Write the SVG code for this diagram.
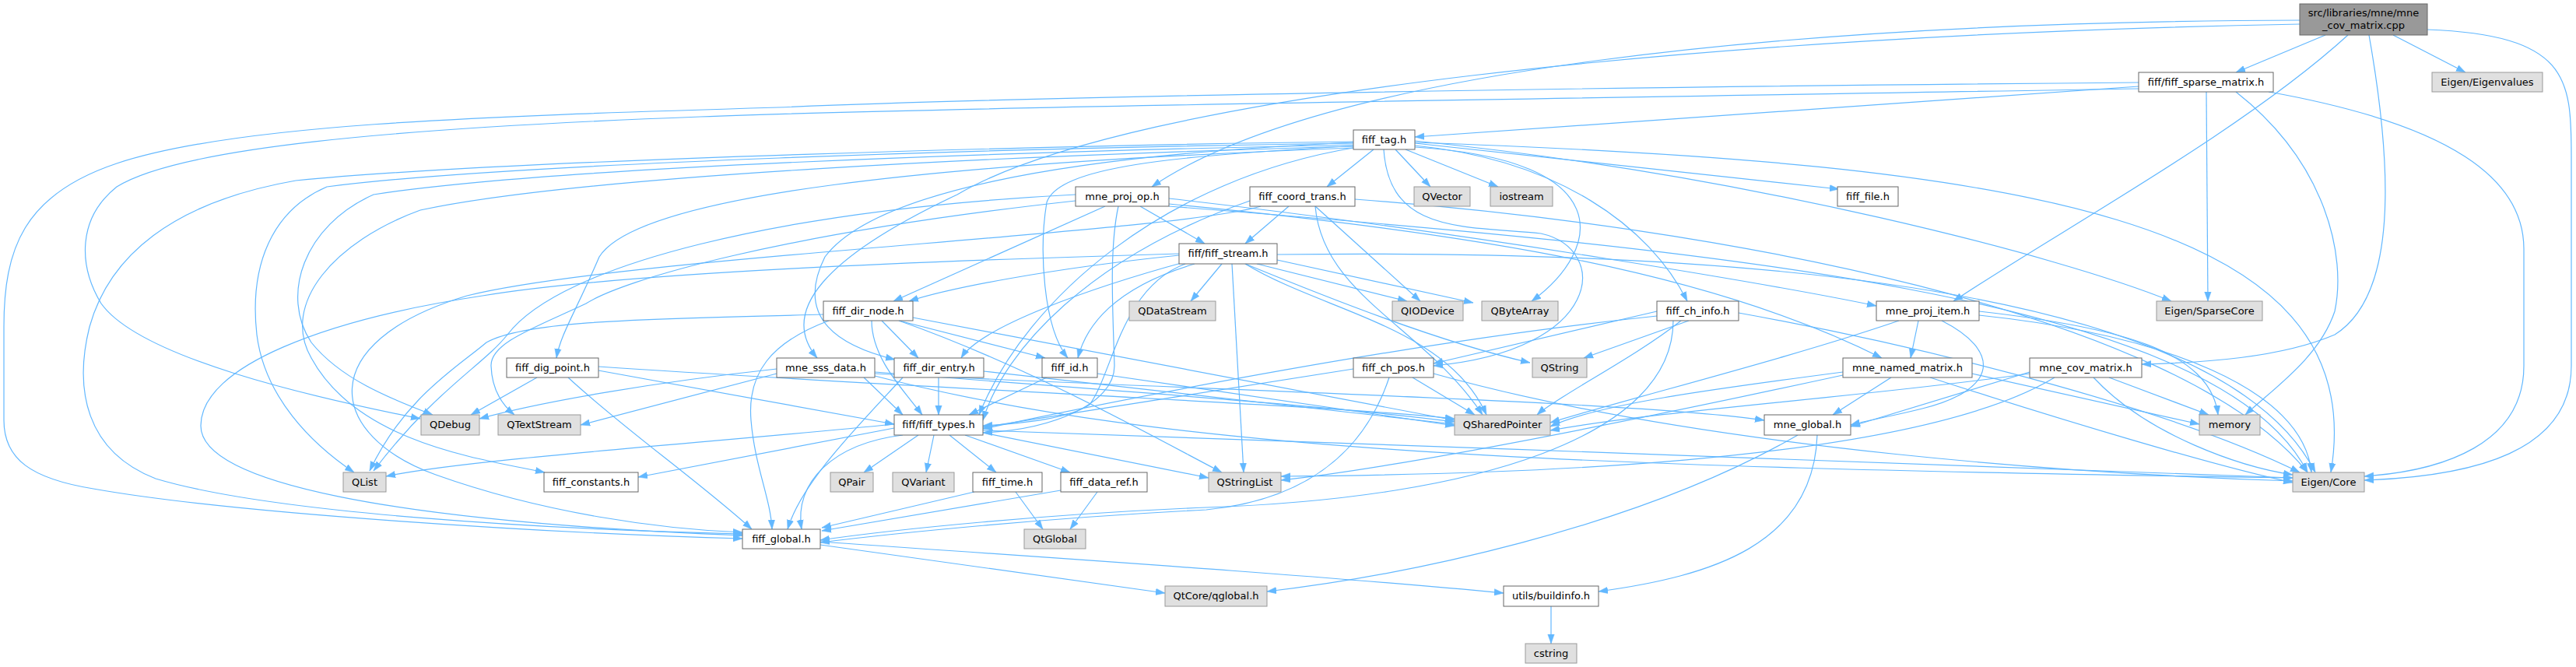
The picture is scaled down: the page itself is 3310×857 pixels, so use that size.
<svg xmlns="http://www.w3.org/2000/svg" width="3310" height="857" viewBox="0 0 3310 857">
<style>
.n rect{fill:#ffffff;stroke:#666666;stroke-width:1}
.g rect{fill:#e0e0e0;stroke:#999999;stroke-width:1}
.r rect{fill:#999999;stroke:#666666;stroke-width:1}
text{font-family:"DejaVu Sans","Liberation Sans",sans-serif;font-size:13px;text-anchor:middle;fill:#000000}
#edges path{fill:none;stroke:#63b8ff;stroke-width:1.2;marker-end:url(#a)}
</style>
<defs>
<marker id="a" viewBox="0 0 12 10" refX="12" refY="5" markerWidth="12" markerHeight="10" markerUnits="userSpaceOnUse" orient="auto">
<path d="M0,0.8 L12,5 L0,9.2 z" fill="#63b8ff" stroke="#63b8ff" stroke-width="0.5"/>
</marker>
</defs>
<rect x="0" y="0" width="3310" height="857" fill="#ffffff"/>
<g id="edges">
<path d="M2988,45 L2873,93"/>
<path d="M3075,45 L3168,93"/>
<path d="M3017,45 C2880,170 2640,300 2510,387"/>
<path d="M3044,45 C3075,220 3080,380 3000,430 C2930,460 2830,466 2752,468"/>
<path d="M3119,38 C3300,45 3304,100 3304,200 L3304,470 C3304,580 3180,612 3038,617"/>
<path d="M2955,26 C2300,28 1700,90 1480,240"/>
<path d="M2955,31 C2200,45 1450,120 1230,250 C1060,330 1000,400 1050,460"/>
<path d="M2748,111 L1818,176"/>
<path d="M2748,106 C2000,112 1300,125 1000,138 C600,150 300,160 150,210 C30,250 5,320 5,420 L5,540 C5,590 40,615 120,628 C300,660 700,685 954,692"/>
<path d="M2748,114 C2100,125 1200,138 900,150 C500,165 230,190 150,240 C100,280 100,340 130,390 C180,460 400,510 540,538"/>
<path d="M2835,118 L2837,387"/>
<path d="M2873,118 C2990,210 3015,330 3000,400 C2980,460 2920,500 2885,533"/>
<path d="M2915,118 C3150,160 3243,230 3243,320 L3243,470 C3243,570 3140,605 3038,612"/>
<path d="M1765,192 L1705,240"/>
<path d="M1793,192 L1838,240"/>
<path d="M1806,192 L1925,240"/>
<path d="M1818,184 L2363,243"/>
<path d="M1818,187 C2000,205 2120,290 2168,387"/>
<path d="M1818,189 C2080,205 2060,320 1968,387"/>
<path d="M1818,181 C2250,225 2650,330 2790,387"/>
<path d="M1818,183 C2600,210 3050,280 2995,607"/>
<path d="M1739,182 C1400,186 650,205 380,232 C220,260 140,330 115,420 C95,500 110,580 200,615 C350,660 700,680 954,686"/>
<path d="M1739,184 C1300,190 650,210 420,240 C350,270 320,340 330,430 C340,510 400,570 455,607"/>
<path d="M1739,186 C1300,195 700,215 480,250 C390,290 360,380 400,440 C440,490 510,515 556,533"/>
<path d="M1739,188 C1300,200 750,225 540,270 C430,310 360,390 400,460 C460,570 620,590 700,607"/>
<path d="M1739,190 C1500,230 1320,380 1258,533"/>
<path d="M1750,187 C1500,200 1360,215 1345,260 C1335,320 1340,420 1372,460"/>
<path d="M1742,183 C1350,200 1120,250 1060,330 C1020,410 1080,445 1150,462"/>
<path d="M1778,192 C1785,300 1880,290 1980,300 C2070,320 2060,450 1842,470"/>
<path d="M1739,190 C1200,210 820,250 770,330 C740,400 720,430 715,460"/>
<path d="M1656,265 L1600,313"/>
<path d="M1690,265 L1825,387"/>
<path d="M1606,258 C1400,330 1290,450 1263,540"/>
<path d="M1690,265 C1700,380 1830,420 1905,533"/>
<path d="M1741,256 C2200,290 2800,400 2965,607"/>
<path d="M1620,265 C1500,300 800,330 600,380 C400,440 420,560 560,610 C700,660 850,680 954,684"/>
<path d="M1515,328 C1350,345 1220,370 1168,387"/>
<path d="M1570,339 L1530,387"/>
<path d="M1535,339 C1430,370 1395,420 1385,460"/>
<path d="M1525,336 C1400,370 1260,420 1235,460"/>
<path d="M1523,339 C1440,370 1430,480 1400,520 C1370,540 1300,545 1263,547"/>
<path d="M1583,339 L1598,607"/>
<path d="M1615,339 L1808,387"/>
<path d="M1641,334 L1893,389"/>
<path d="M1600,339 C1700,380 1850,440 1966,466"/>
<path d="M1600,339 C1700,400 1860,420 1910,533"/>
<path d="M1515,326 C1200,335 800,350 620,380 C420,410 258,470 258,547 C258,620 500,670 954,688"/>
<path d="M1641,327 C2200,320 2850,360 2975,607"/>
<path d="M1502,255 C1900,300 2300,370 2411,393"/>
<path d="M1465,265 L1548,313"/>
<path d="M1420,265 L1148,387"/>
<path d="M1502,262 C1900,300 2200,350 2418,460"/>
<path d="M1437,265 C1425,320 1430,400 1432,470 C1432,520 1350,552 1263,556"/>
<path d="M1382,250 C1000,270 720,340 652,430 C620,470 560,500 480,605"/>
<path d="M1382,258 C1000,300 800,360 753,390 C690,420 630,440 631,470 C632,500 645,520 661,533"/>
<path d="M1502,265 C2200,320 2850,380 2965,607"/>
<path d="M1133,412 L1180,460"/>
<path d="M1155,412 L1343,460"/>
<path d="M1120,412 C1120,460 1160,500 1185,533"/>
<path d="M1173,408 L1869,540"/>
<path d="M1155,412 C1320,470 1480,560 1570,607"/>
<path d="M1058,404 C850,410 680,410 625,440 C590,470 520,510 475,605"/>
<path d="M1065,412 C990,440 960,480 965,540 C970,600 990,640 992,680"/>
<path d="M690,485 L605,533"/>
<path d="M769,476 L1149,545"/>
<path d="M769,471 C1200,500 1700,520 1869,538"/>
<path d="M730,485 C800,550 900,620 966,680"/>
<path d="M998,474 C850,490 700,515 616,538"/>
<path d="M998,480 L746,546"/>
<path d="M1110,485 L1160,533"/>
<path d="M1124,478 C1400,500 1700,520 1869,542"/>
<path d="M1124,480 C1500,500 2100,515 2267,540"/>
<path d="M1124,483 C1500,580 2000,600 2946,614"/>
<path d="M1206,485 L1206,533"/>
<path d="M1264,477 L1869,545"/>
<path d="M1160,485 C1100,550 1030,620 1012,680"/>
<path d="M1345,485 L1245,533"/>
<path d="M1410,480 L1869,547"/>
<path d="M1739,474 L1263,549"/>
<path d="M1815,485 L1895,533"/>
<path d="M1785,485 C1760,560 1700,640 1550,655 C1350,665 1150,685 1054,697"/>
<path d="M1842,480 C2200,580 2700,610 2946,618"/>
<path d="M2129,400 L1842,467"/>
<path d="M2170,412 L2035,460"/>
<path d="M2129,406 C1900,430 1600,480 1263,551"/>
<path d="M2160,412 C2100,460 2000,510 1975,533"/>
<path d="M2150,412 C2150,560 1900,640 1550,652 C1350,660 1150,680 1054,694"/>
<path d="M2234,402 C2500,450 2800,530 2955,607"/>
<path d="M2465,412 L2455,460"/>
<path d="M2440,412 C2300,460 2100,510 1992,543"/>
<path d="M2495,412 C2570,450 2570,500 2470,525 C2430,535 2400,540 2378,546"/>
<path d="M2543,405 C2780,430 2960,500 2970,607"/>
<path d="M2543,400 C2720,420 2840,450 2850,533"/>
<path d="M2430,485 L2355,533"/>
<path d="M2368,478 C2200,500 2050,520 1992,548"/>
<path d="M2480,485 C2650,540 2850,600 2946,620"/>
<path d="M2534,480 L2826,545"/>
<path d="M2368,482 C2100,540 1800,600 1646,617"/>
<path d="M2608,478 L2378,548"/>
<path d="M2608,480 C2400,510 2150,525 1992,553"/>
<path d="M2640,485 C2450,600 1900,610 1646,612"/>
<path d="M2710,485 L2838,533"/>
<path d="M2690,485 C2760,560 2880,600 2946,610"/>
<path d="M2310,559 C2100,680 1800,740 1628,760"/>
<path d="M2335,559 C2330,700 2200,740 2054,760"/>
<path d="M1054,700 L1497,762"/>
<path d="M1054,696 C1400,720 1700,740 1932,762"/>
<path d="M1180,559 L1110,607"/>
<path d="M1200,559 L1190,607"/>
<path d="M1220,559 L1280,607"/>
<path d="M1240,559 L1375,607"/>
<path d="M1263,556 L1553,614"/>
<path d="M1149,550 L820,613"/>
<path d="M1149,545 C900,570 600,590 496,612"/>
<path d="M1160,559 C1070,570 1020,620 1030,680"/>
<path d="M1263,553 C1800,570 2500,600 2946,614"/>
<path d="M1252,632 L1056,678"/>
<path d="M1305,632 L1340,680"/>
<path d="M1363,630 L1056,682"/>
<path d="M1410,632 L1375,680"/>
<path d="M1993,779 L1993,827"/>
</g>
<g id="n_root" class="r"><rect x="2955" y="5" width="164" height="40"/><text x="3037" y="21">src/libraries/mne/mne</text><text x="3037" y="37">_cov_matrix.cpp</text></g>
<g id="n_sparse" class="n"><rect x="2748" y="93" width="173" height="25"/><text x="2834.5" y="110">fiff/fiff_sparse_matrix.h</text></g>
<g id="n_eigenvalues" class="g"><rect x="3125" y="93" width="142" height="25"/><text x="3196" y="110">Eigen/Eigenvalues</text></g>
<g id="n_fiff_tag" class="n"><rect x="1739" y="167" width="79" height="25"/><text x="1778.5" y="184">fiff_tag.h</text></g>
<g id="n_mne_proj_op" class="n"><rect x="1382" y="240" width="120" height="25"/><text x="1442" y="257">mne_proj_op.h</text></g>
<g id="n_fiff_coord_trans" class="n"><rect x="1606" y="240" width="135" height="25"/><text x="1673.5" y="257">fiff_coord_trans.h</text></g>
<g id="n_qvector" class="g"><rect x="1817" y="240" width="72" height="25"/><text x="1853" y="257">QVector</text></g>
<g id="n_iostream" class="g"><rect x="1915" y="240" width="80" height="25"/><text x="1955" y="257">iostream</text></g>
<g id="n_fiff_file" class="n"><rect x="2361" y="240" width="78" height="25"/><text x="2400" y="257">fiff_file.h</text></g>
<g id="n_fiff_stream" class="n"><rect x="1515" y="313" width="126" height="26"/><text x="1578" y="330">fiff/fiff_stream.h</text></g>
<g id="n_fiff_dir_node" class="n"><rect x="1058" y="387" width="115" height="25"/><text x="1115.5" y="404">fiff_dir_node.h</text></g>
<g id="n_qdatastream" class="g"><rect x="1451" y="387" width="111" height="25"/><text x="1506.5" y="404">QDataStream</text></g>
<g id="n_qiodevice" class="g"><rect x="1789" y="387" width="91" height="25"/><text x="1834.5" y="404">QIODevice</text></g>
<g id="n_qbytearray" class="g"><rect x="1904" y="387" width="98" height="25"/><text x="1953" y="404">QByteArray</text></g>
<g id="n_fiff_ch_info" class="n"><rect x="2129" y="387" width="105" height="25"/><text x="2181.5" y="404">fiff_ch_info.h</text></g>
<g id="n_mne_proj_item" class="n"><rect x="2411" y="387" width="132" height="25"/><text x="2477" y="404">mne_proj_item.h</text></g>
<g id="n_sparsecore" class="g"><rect x="2771" y="387" width="136" height="25"/><text x="2839" y="404">Eigen/SparseCore</text></g>
<g id="n_fiff_dig_point" class="n"><rect x="651" y="460" width="118" height="25"/><text x="710" y="477">fiff_dig_point.h</text></g>
<g id="n_mne_sss_data" class="n"><rect x="998" y="460" width="126" height="25"/><text x="1061" y="477">mne_sss_data.h</text></g>
<g id="n_fiff_dir_entry" class="n"><rect x="1149" y="460" width="115" height="25"/><text x="1206.5" y="477">fiff_dir_entry.h</text></g>
<g id="n_fiff_id" class="n"><rect x="1339" y="460" width="71" height="25"/><text x="1374.5" y="477">fiff_id.h</text></g>
<g id="n_fiff_ch_pos" class="n"><rect x="1739" y="460" width="103" height="25"/><text x="1790.5" y="477">fiff_ch_pos.h</text></g>
<g id="n_qstring" class="g"><rect x="1969" y="460" width="70" height="25"/><text x="2004" y="477">QString</text></g>
<g id="n_mne_named_matrix" class="n"><rect x="2368" y="460" width="166" height="25"/><text x="2451" y="477">mne_named_matrix.h</text></g>
<g id="n_mne_cov_matrix" class="n"><rect x="2608" y="460" width="144" height="25"/><text x="2680" y="477">mne_cov_matrix.h</text></g>
<g id="n_qdebug" class="g"><rect x="541" y="533" width="75" height="26"/><text x="578.5" y="550">QDebug</text></g>
<g id="n_qtextstream" class="g"><rect x="640" y="533" width="106" height="26"/><text x="693" y="550">QTextStream</text></g>
<g id="n_fiff_types" class="n"><rect x="1149" y="533" width="114" height="26"/><text x="1206" y="550">fiff/fiff_types.h</text></g>
<g id="n_qsharedpointer" class="g"><rect x="1869" y="533" width="123" height="26"/><text x="1930.5" y="550">QSharedPointer</text></g>
<g id="n_mne_global" class="n"><rect x="2267" y="533" width="111" height="26"/><text x="2322.5" y="550">mne_global.h</text></g>
<g id="n_memory" class="g"><rect x="2826" y="533" width="78" height="26"/><text x="2865" y="550">memory</text></g>
<g id="n_qlist" class="g"><rect x="441" y="607" width="55" height="25"/><text x="468.5" y="624">QList</text></g>
<g id="n_fiff_constants" class="n"><rect x="699" y="607" width="121" height="25"/><text x="759.5" y="624">fiff_constants.h</text></g>
<g id="n_qpair" class="g"><rect x="1067" y="607" width="55" height="25"/><text x="1094.5" y="624">QPair</text></g>
<g id="n_qvariant" class="g"><rect x="1147" y="607" width="79" height="25"/><text x="1186.5" y="624">QVariant</text></g>
<g id="n_fiff_time" class="n"><rect x="1250" y="607" width="89" height="25"/><text x="1294.5" y="624">fiff_time.h</text></g>
<g id="n_fiff_data_ref" class="n"><rect x="1363" y="607" width="111" height="25"/><text x="1418.5" y="624">fiff_data_ref.h</text></g>
<g id="n_qstringlist" class="g"><rect x="1553" y="607" width="93" height="25"/><text x="1599.5" y="624">QStringList</text></g>
<g id="n_eigen_core" class="g"><rect x="2946" y="607" width="92" height="25"/><text x="2992" y="624">Eigen/Core</text></g>
<g id="n_fiff_global" class="n"><rect x="954" y="680" width="100" height="25"/><text x="1004" y="697">fiff_global.h</text></g>
<g id="n_qtglobal" class="g"><rect x="1316" y="680" width="79" height="25"/><text x="1355.5" y="697">QtGlobal</text></g>
<g id="n_qtcore_qglobal" class="g"><rect x="1497" y="753" width="131" height="26"/><text x="1562.5" y="770">QtCore/qglobal.h</text></g>
<g id="n_buildinfo" class="n"><rect x="1932" y="753" width="122" height="26"/><text x="1993" y="770">utils/buildinfo.h</text></g>
<g id="n_cstring" class="g"><rect x="1960" y="827" width="66" height="25"/><text x="1993" y="844">cstring</text></g>
</svg>
